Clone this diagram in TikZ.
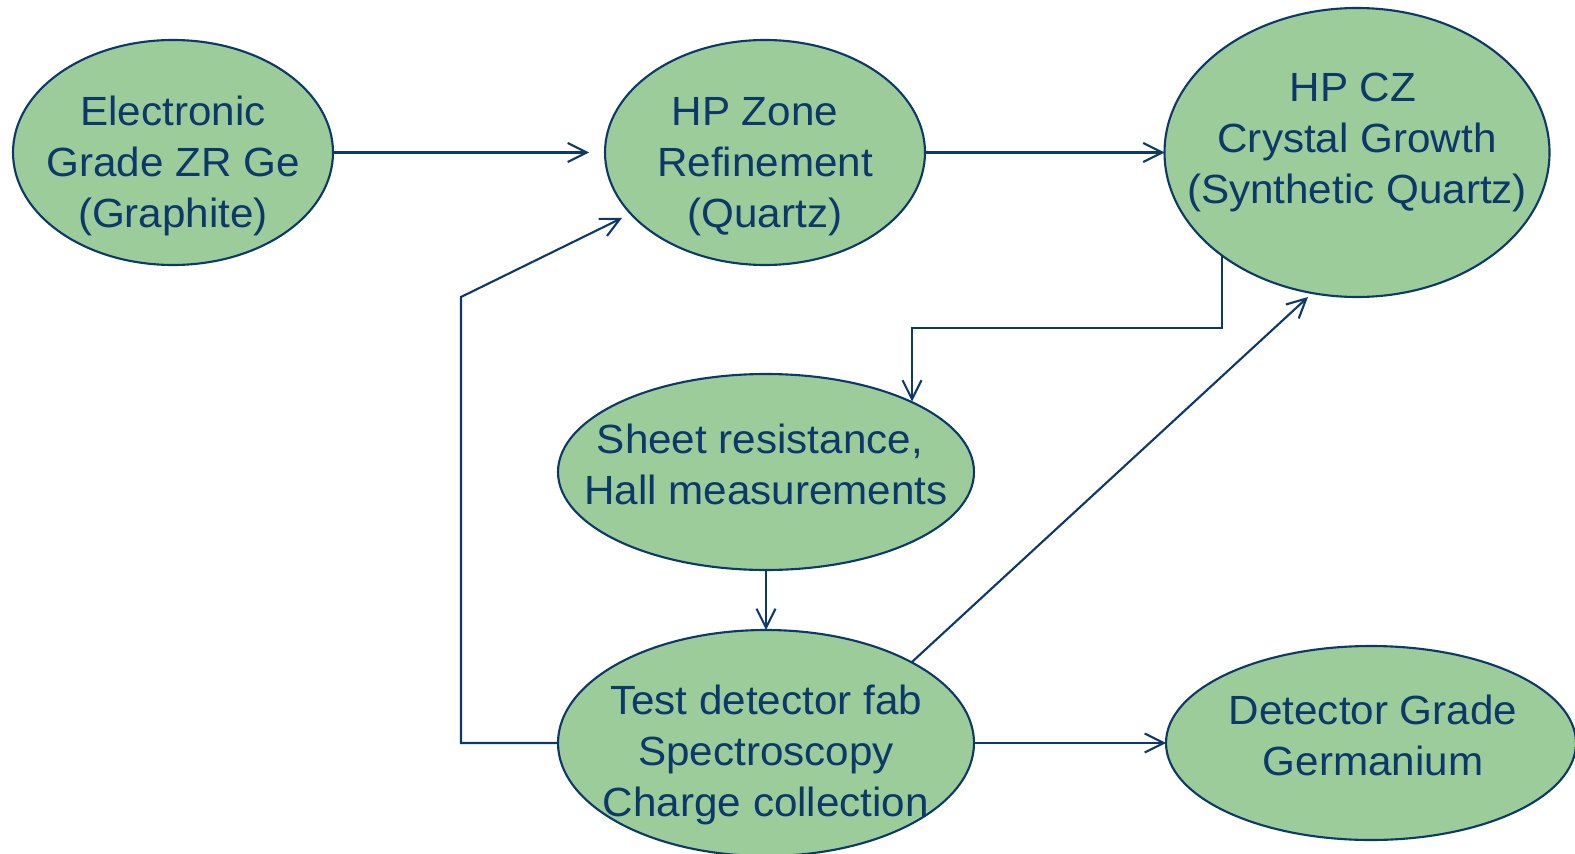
\documentclass[tikz,border=0pt]{standalone}
\usepackage{fontspec}
\setmainfont{Liberation Sans}[FakeStretch=1.035]
\usetikzlibrary{shapes.geometric,arrows.meta}
\definecolor{navy}{RGB}{12,56,106}
\definecolor{leaf}{RGB}{155,204,153}
\newcommand{\mylines}[1]{\begin{tabular}[t]{@{}c@{}}#1\end{tabular}}
\begin{document}
\begin{tikzpicture}[x=0.1mm,y=-0.1mm,
  ell/.style={ellipse, draw=navy, fill=leaf, line width=0.6pt, inner sep=0pt, outer sep=0pt},
  txt/.style={anchor=base, text=navy, inner sep=0pt, font=\fontsize{11.6}{14.5}\selectfont},
  arr/.style={draw=navy, line width=0.6pt, -{Straight Barb[length=1.9mm,width=1.9mm,line width=0.6pt]}},
  conn/.style={draw=navy, line width=0.6pt}]
\useasboundingbox (0,0) rectangle (1575,854);
% ellipses
\node[ell, minimum width=32mm, minimum height=22.5mm] (e1) at (173,152.5) {};
\node[ell, minimum width=32mm, minimum height=22.5mm] (e2) at (765,152.5) {};
\node[ell, minimum width=38.5mm, minimum height=28.9mm] (e3) at (1357,152.5) {};
\node[ell, minimum width=41.6mm, minimum height=19.6mm] (e4) at (766,472) {};
\node[ell, minimum width=41.6mm, minimum height=22.6mm] (e5) at (766,743) {};
\node[ell, minimum width=41mm, minimum height=19.4mm] (e6) at (1371,743) {};
% texts
\node[txt] (t1) at (173,126) {\mylines{Electronic\\Grade ZR Ge\\(Graphite)}};
\node[txt] (t2) at (765,125.5) {\mylines{HP Zone\hspace*{0.5em}\\Refinement\\(Quartz)}};
\node[txt] (t3) at (1357,102) {\mylines{HP CZ\hspace*{0.2em}\\Crystal Growth\\(Synthetic Quartz)}};
\node[txt] (t4) at (766,453.5) {\mylines{Sheet resistance,\hspace*{0.3em}\\Hall measurements}};
\node[txt] (t5) at (766,714.5) {\mylines{Test detector fab\\Spectroscopy\\Charge collection}};
\node[txt] (t6) at (1373,724.5) {\mylines{Detector Grade\\Germanium}};
% helper coordinates
\coordinate (fb1) at (461,743);
\coordinate (fb2) at (461,297);
\coordinate (fbtip) at (622,218);
\coordinate (bend1) at (1222,328);
\coordinate (bend2) at (912,328);
\coordinate (tip3) at (1308,297);
% connectors
\draw[arr, shorten >=1.6mm] (e1.east) -- (e2.west);
\draw[arr] (e2.east) -- (e3.west);
\draw[arr] (e5.west) -- (fb1) -- (fb2) -- (fbtip);
\draw[arr] (bend1 |- e3.217) -- (bend1) -- (bend2) -- (bend2 |- e4.26);
\draw[arr] (e4.south) -- (e5.north);
\draw[arr] (e5.29) -- (tip3);
\draw[arr] (e5.east) -- (e5.east -| e6.west);
\end{tikzpicture}
\end{document}
